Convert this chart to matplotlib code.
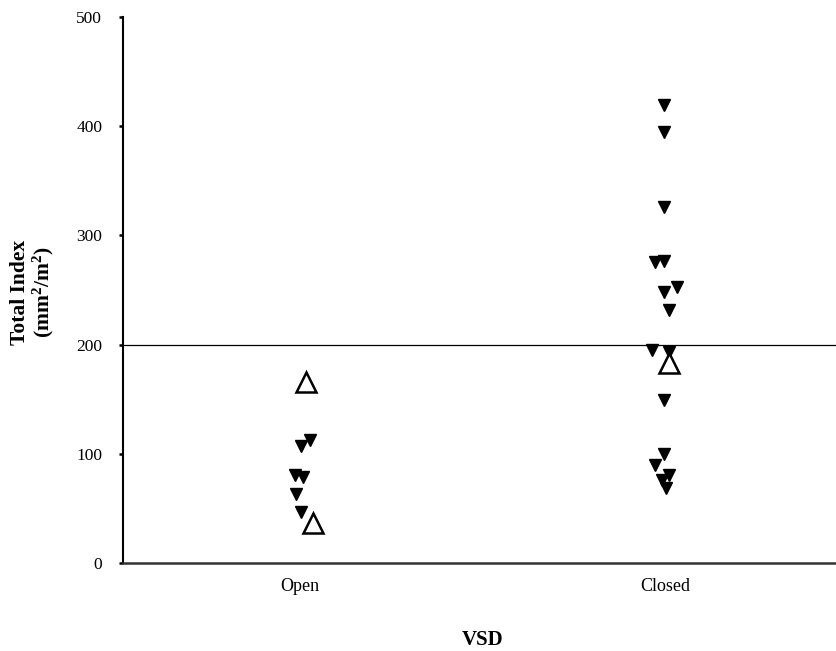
import numpy as np
import matplotlib
matplotlib.use("Agg")
import matplotlib.pyplot as plt

plt.rcParams['font.family'] = ['Liberation Serif', 'DejaVu Serif']
plt.rcParams['mathtext.fontset'] = 'custom'
plt.rcParams['mathtext.bf'] = 'Liberation Serif:bold'
plt.rcParams['mathtext.rm'] = 'Liberation Serif'

categories = ["Open", "Closed"]

# filled down-triangles: small horizontal offset from the group, value
open_x = [0.027, 0.003, -0.014, 0.008, -0.011, 0.003]
open_y = [113, 107, 81, 79, 63, 47]
closed_x = [-0.005, -0.005, -0.005, -0.027, -0.005, -0.005, 0.033, 0.011,
            -0.036, 0.011, -0.005, -0.005, -0.027, 0.011, -0.008, 0.003]
closed_y = [419, 395, 326, 276, 277, 248, 253, 232,
            195, 193, 149, 100, 90, 81, 76, 69]

# open triangles (group index + offset, value)
tri_x = [0.016, 0.036, 1.011]
tri_y = [166, 37, 183]

cutoff = 200

fig = plt.figure(figsize=(8.37, 6.51), dpi=100)
ax = fig.add_axes([0.147, 0.135, 0.853, 0.839])

ax.axhline(cutoff, color='black', lw=0.9, zorder=1)

ax.plot(np.array(open_x) + 0, open_y, 'v', color='black', ms=8, zorder=3)
ax.plot(np.array(closed_x) + 1, closed_y, 'v', color='black', ms=8, zorder=3)
ax.plot(tri_x, tri_y, '^', mfc='white', mec='black', mew=1.8, ms=15, zorder=4)

ax.set_xlim(-0.485, 1.47)
ax.set_ylim(0, 500)
ax.set_xticks([0, 1])
ax.set_xticklabels(categories, fontsize=13)
ax.set_yticks(np.arange(0, 501, 100))
ax.tick_params(axis='y', labelsize=12.5, length=3, width=1.8, direction='out', pad=12)
ax.tick_params(axis='x', length=0, pad=10.5)

ax.spines['top'].set_visible(False)
ax.spines['right'].set_visible(False)
ax.spines['left'].set_linewidth(1.5)
ax.spines['bottom'].set_linewidth(1.8)
ax.spines['bottom'].set_color('#333333')

fig.text(33 / 837, 1 - 292 / 651, "Total Index\n(mm$\\mathbf{^2}$/m$\\mathbf{^2}$)",
         rotation=90, ha='center', va='center', fontsize=15.5,
         fontweight='bold', linespacing=1.05, multialignment='center')
fig.text(483 / 837, 1 - 640 / 651, "VSD", ha='center', va='center',
         fontsize=15, fontweight='bold')

fig.savefig("out.png", dpi=100)
